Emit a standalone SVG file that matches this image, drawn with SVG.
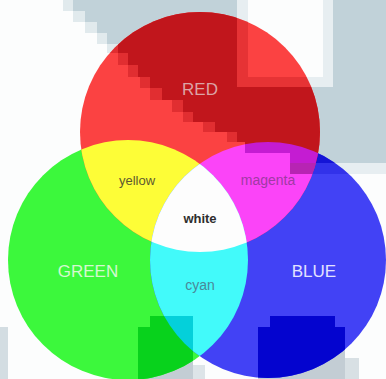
<svg xmlns="http://www.w3.org/2000/svg" xmlns:xlink="http://www.w3.org/1999/xlink" width="386" height="379" viewBox="0 0 386 379">
<style>
.lbl{font-family:"Liberation Sans","DejaVu Sans",Arial,sans-serif;text-anchor:middle}
.big{font-size:17px}
.small{font-size:13px}
</style>
<defs>
<clipPath id="cR"><circle cx="200" cy="132" r="120"/></clipPath>
<clipPath id="cG"><circle cx="128" cy="260" r="120"/></clipPath>
<clipPath id="cB"><circle cx="268" cy="260" r="118"/></clipPath>
<g id="shadeTop">
<path d="M73,0 H237 V87 H333 V0 H386 V163 H290 V153 H245 V142 H237 V132 H215 V122 H193 V112 H183 V100 H162 V88 H150 V77 H138 V65 H128 V53 H118 V44 H107 V33 H97 V22 H85 V11 H73 Z"/>
<path d="M63,0H73V11H63Z M73,11H85V22H73Z M85,22H97V33H85Z M97,33H107V44H97Z M107,44H118V53H107Z M118,53H128V65H118Z M128,65H138V77H128Z M140,77H150V88H140Z M150,88H162V100H150Z M172,100H183V112H172Z M183,112H193V122H183Z M203,122H215V132H203Z M227,132H237V142H227Z" fill-opacity="0.45"/>
<path d="M237,0 H248 V87 H237 Z M248,77 H333 V87 H248 Z M323,0 H333 V77 H323 Z M290,163 H386 V174 H290 Z" fill-opacity="0.35"/>
</g>
<g id="shadeGreenSq">
<path d="M150,316 H193 V379 H138 V327 H150 Z"/>
</g>
<g id="shadeBlueSq">
<path d="M270,316 H335 V327 H345 V379 H258 V327 H270 Z"/>
</g>
</defs>
<rect width="386" height="379" fill="#fcfdfd"/>
<g id="background-shade">
<use xlink:href="#shadeTop" fill="#c1d2d9"/>
<use xlink:href="#shadeGreenSq" fill="#c3cdd4"/>
<use xlink:href="#shadeBlueSq" fill="#c3cdd4"/>
<rect x="0" y="327" width="8" height="52" fill="#d3dde2"/>
<rect x="345" y="358" width="14" height="21" fill="#d8e0e4"/>
<rect x="193" y="365" width="12" height="14" fill="#dde4e8"/>
</g>
<g id="green"><circle cx="128" cy="260" r="120" fill="#3cf83c"/></g>
<g id="blue"><circle cx="268" cy="260" r="118" fill="#4242f5"/></g>
<g id="red"><circle cx="200" cy="132" r="120" fill="#fb4242"/></g>
<g id="yellow"><circle cx="200" cy="132" r="120" fill="#fdfd37" clip-path="url(#cG)"/></g>
<g id="magenta"><circle cx="200" cy="132" r="120" fill="#fb44f8" clip-path="url(#cB)"/></g>
<g id="cyan"><circle cx="128" cy="260" r="120" fill="#42fafa" clip-path="url(#cB)"/></g>
<g id="white" clip-path="url(#cR)"><circle cx="128" cy="260" r="120" fill="#fdfdfd" clip-path="url(#cB)"/></g>
<g id="shade-overlays">
<g clip-path="url(#cB)"><use xlink:href="#shadeTop" fill="#1414d6"/></g>
<g clip-path="url(#cR)"><use xlink:href="#shadeTop" fill="#c1161c"/></g>
<g clip-path="url(#cR)"><g clip-path="url(#cB)"><use xlink:href="#shadeTop" fill="#c41cd2"/></g></g>
<g clip-path="url(#cG)"><use xlink:href="#shadeGreenSq" fill="#08d21c"/></g>
<g clip-path="url(#cG)"><g clip-path="url(#cB)"><use xlink:href="#shadeGreenSq" fill="#04d0da"/></g></g>
<g clip-path="url(#cB)"><use xlink:href="#shadeBlueSq" fill="#0404cf"/></g>
</g>
<g id="labels">
<text class="lbl big" x="200" y="95" fill="#dca4a6">RED</text>
<text class="lbl big" x="88" y="277" fill="#d4f8d0">GREEN</text>
<text class="lbl big" x="314" y="277" fill="#e2e2ff">BLUE</text>
<text class="lbl small" x="137" y="185" fill="#5e5a30">yellow</text>
<text class="lbl small" x="268" y="185" fill="#a03aa4" style="font-size:14px">magenta</text>
<text class="lbl small" x="200" y="223" fill="#2e2e2e" font-weight="bold">white</text>
<text class="lbl small" x="200" y="290" fill="#4a8898" style="font-size:14px">cyan</text>
</g>
</svg>
